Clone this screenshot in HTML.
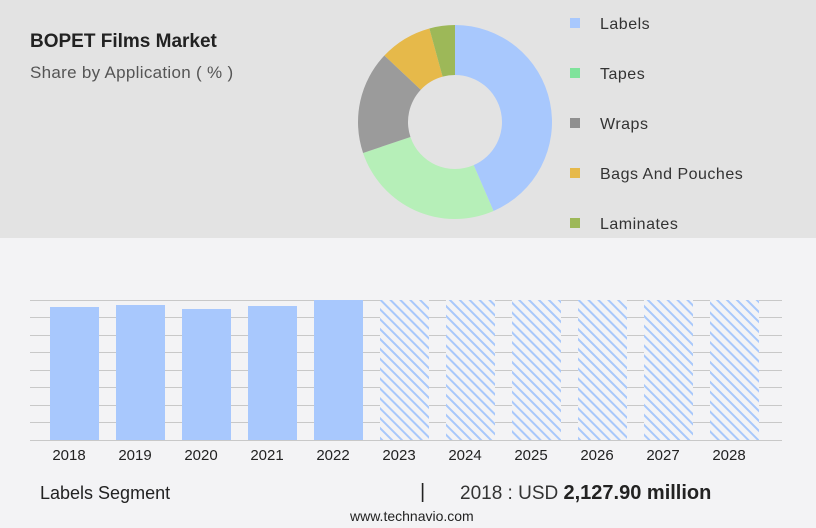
<!DOCTYPE html>
<html><head><style>
body{margin:0;width:816px;height:528px;overflow:hidden;background:#f3f3f5;font-family:"Liberation Sans",sans-serif;position:relative}
.top{position:absolute;left:0;top:0;width:816px;height:238px;background:#e3e3e3}
.t{position:absolute;color:#222;white-space:nowrap}
</style></head><body>
<div class="top"></div>
<div class="t" style="left:30px;top:31px;font-size:19px;font-weight:bold">BOPET Films Market</div>
<div class="t" style="left:30px;top:63px;font-size:17px;color:#555;letter-spacing:0.3px">Share by Application ( % )</div>
<svg width="816" height="528" style="position:absolute;left:0;top:0">
<defs><pattern id="h" width="7" height="7" patternUnits="userSpaceOnUse" patternTransform="rotate(-45)"><rect width="7" height="7" fill="#f3f3f5"/><rect x="0" y="0" width="2" height="7" fill="#a8c8fb"/></pattern></defs>
<g id="d"></g>
<g stroke="#c8c8c8" stroke-width="1">
<line x1="30" x2="782" y1="300.5" y2="300.5"/><line x1="30" x2="782" y1="317.5" y2="317.5"/><line x1="30" x2="782" y1="335.5" y2="335.5"/><line x1="30" x2="782" y1="352.5" y2="352.5"/><line x1="30" x2="782" y1="370.5" y2="370.5"/><line x1="30" x2="782" y1="387.5" y2="387.5"/><line x1="30" x2="782" y1="405.5" y2="405.5"/><line x1="30" x2="782" y1="422.5" y2="422.5"/><line x1="30" x2="782" y1="440.5" y2="440.5"/>
</g>
<g fill="#a8c8fd">
<rect x="50" y="307" width="49" height="133"/><rect x="116" y="305" width="49" height="135"/><rect x="182" y="309" width="49" height="131"/><rect x="248" y="306" width="49" height="134"/><rect x="314" y="300" width="49" height="140"/>
</g>
<g fill="url(#h)">
<rect x="380" y="300" width="49" height="140"/><rect x="446" y="300" width="49" height="140"/><rect x="512" y="300" width="49" height="140"/><rect x="578" y="300" width="49" height="140"/><rect x="644" y="300" width="49" height="140"/><rect x="710" y="300" width="49" height="140"/>
</g>
<g font-size="15" fill="#222" text-anchor="middle" font-family="Liberation Sans">
<text x="69" y="460">2018</text><text x="135" y="460">2019</text><text x="201" y="460">2020</text><text x="267" y="460">2021</text><text x="333" y="460">2022</text><text x="399" y="460">2023</text><text x="465" y="460">2024</text><text x="531" y="460">2025</text><text x="597" y="460">2026</text><text x="663" y="460">2027</text><text x="729" y="460">2028</text>
</g>
<g font-size="16" fill="#333" font-family="Liberation Sans" letter-spacing="0.5">
<rect x="570" y="18" width="10" height="10" fill="#a8c8fd"/><text x="600" y="29">Labels</text>
<rect x="570" y="68" width="10" height="10" fill="#7fe39b"/><text x="600" y="79">Tapes</text>
<rect x="570" y="118" width="10" height="10" fill="#8f8f8f"/><text x="600" y="129">Wraps</text>
<rect x="570" y="168" width="10" height="10" fill="#e6b94a"/><text x="600" y="179">Bags And Pouches</text>
<rect x="570" y="218" width="10" height="10" fill="#9db858"/><text x="600" y="229">Laminates</text>
</g>
</svg>
<div class="t" style="left:40px;top:483px;font-size:18px">Labels Segment</div>
<div class="t" style="left:420px;top:481px;font-size:20px">|</div>
<div class="t" style="left:460px;top:482px;font-size:19px;color:#333">2018 : USD <b style="font-size:20px;color:#222">2,127.90 million</b></div>
<div class="t" style="left:350px;top:508px;font-size:14px">www.technavio.com</div>
<script>
var cx=455,cy=122,R=97,r=47,segs=[[0,156.6,'#a8c8fd'],[156.6,251.4,'#b6efb8'],[251.4,313.3,'#9b9b9b'],[313.3,344.7,'#e6b94a'],[344.7,360,'#9db858']],s='';
function p(a,rad){a=a*Math.PI/180;return (cx+rad*Math.sin(a)).toFixed(2)+' '+(cy-rad*Math.cos(a)).toFixed(2);}
segs.forEach(function(g){var l=(g[1]-g[0])>180?1:0;s+='<path fill="'+g[2]+'" d="M'+p(g[0],R)+' A'+R+' '+R+' 0 '+l+' 1 '+p(g[1],R)+' L'+p(g[1],r)+' A'+r+' '+r+' 0 '+l+' 0 '+p(g[0],r)+' Z"/>';});
document.getElementById('d').innerHTML=s;
</script>
</body></html>
